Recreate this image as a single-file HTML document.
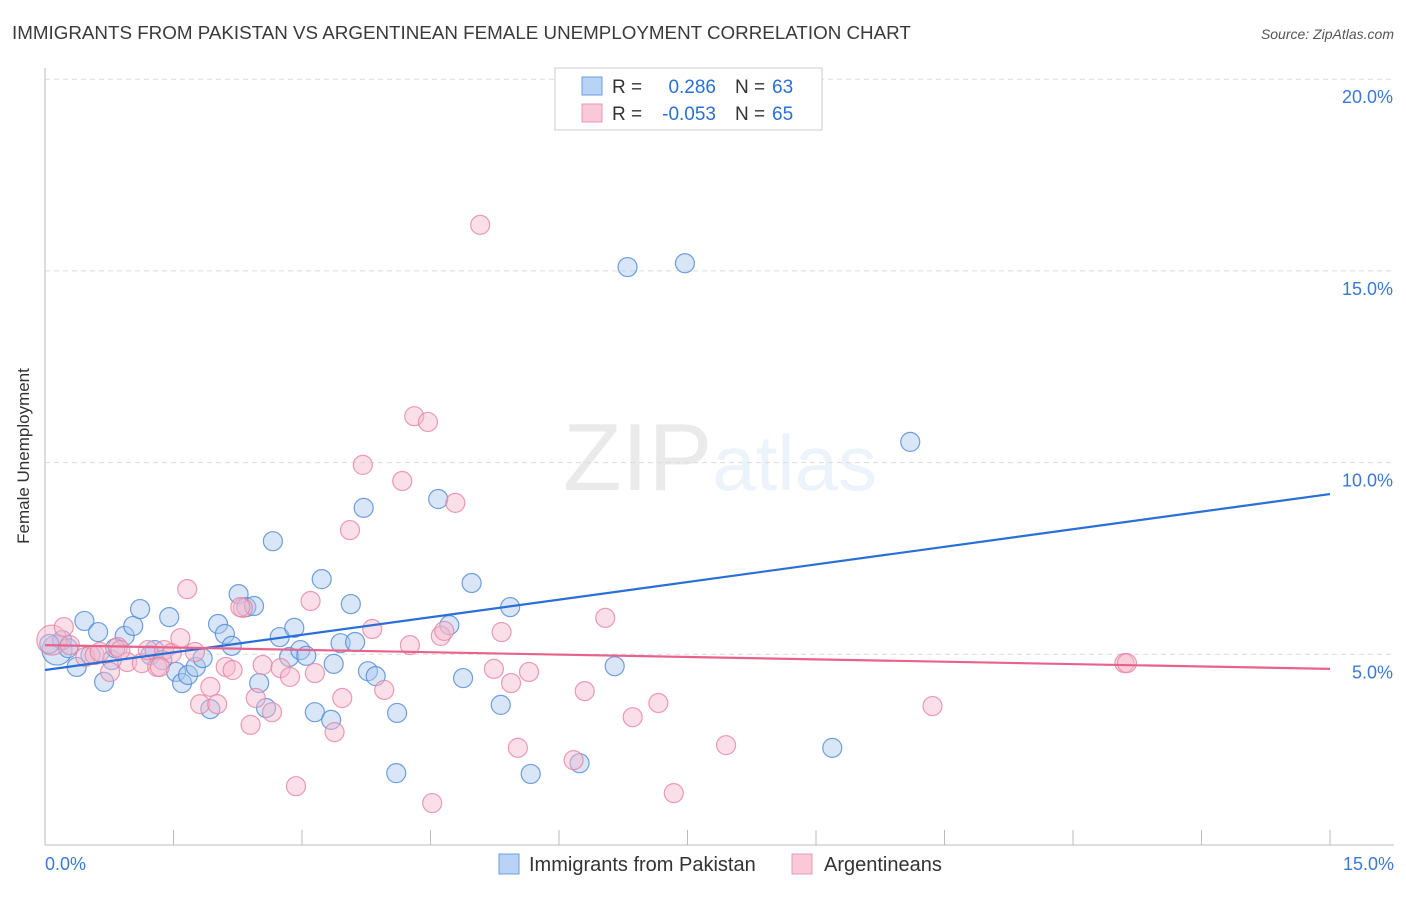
<!DOCTYPE html>
<html><head><meta charset="utf-8"><style>
body{margin:0;background:#fff;font-family:"Liberation Sans",sans-serif;}
svg text{font-family:"Liberation Sans",sans-serif;}
</style></head><body>
<svg id="chart" width="1406" height="892" xmlns="http://www.w3.org/2000/svg">
<text x="12" y="39" font-size="18.8" fill="#3a3a3a">IMMIGRANTS FROM PAKISTAN VS ARGENTINEAN FEMALE UNEMPLOYMENT CORRELATION CHART</text>
<text x="1394" y="39" font-size="14" fill="#555" text-anchor="end" font-style="italic">Source: ZipAtlas.com</text>
<text x="720" y="490" font-size="96" text-anchor="middle" fill="#000" opacity="0.08" font-family="Liberation Serif"><tspan>ZIP</tspan><tspan fill="#2a6fd6" opacity="1" font-family="Liberation Sans" font-size="78">atlas</tspan></text>
<text transform="translate(29,456) rotate(-90)" font-size="17" fill="#333" text-anchor="middle">Female Unemployment</text>
<g id="grid"></g><g id="axes"></g><g id="pts"></g><g id="trend"></g>
<g>
<rect x="555" y="68" width="267" height="62" fill="#fff" stroke="#ccc"/>
<rect x="582" y="77" width="20" height="18" fill="#b9d3f5" stroke="#6a9be0"/>
<rect x="582" y="104" width="20" height="18" fill="#f9c9d7" stroke="#e79ab2"/>
<text x="612" y="93" font-size="19" fill="#333">R = </text><text x="716" y="93" font-size="19" fill="#2a6fd6" text-anchor="end">0.286</text>
<text x="735" y="93" font-size="19" fill="#333">N = </text><text x="772" y="93" font-size="19" fill="#2a6fd6">63</text>
<text x="612" y="120" font-size="19" fill="#333">R = </text><text x="716" y="120" font-size="19" fill="#2a6fd6" text-anchor="end">-0.053</text>
<text x="735" y="120" font-size="19" fill="#333">N = </text><text x="772" y="120" font-size="19" fill="#2a6fd6">65</text>
</g>
<g>
<rect x="499" y="854" width="20" height="20" fill="#b9d3f5" stroke="#6a9be0"/>
<text x="529" y="871" font-size="20" fill="#333">Immigrants from Pakistan</text>
<rect x="792" y="854" width="20" height="20" fill="#f9c9d7" stroke="#e79ab2"/>
<text x="824" y="871" font-size="20" fill="#333">Argentineans</text>
</g>
</svg>
<script>
const blueX=[0.14,0.20,0.37,0.46,0.62,0.69,0.78,0.93,1.03,1.11,1.23,1.28,1.37,1.45,1.53,1.60,1.67,1.76,1.84,1.93,2.02,2.10,2.18,2.26,2.35,2.44,2.50,2.58,2.66,2.74,2.85,2.91,2.98,3.05,3.15,3.23,3.34,3.37,3.45,3.57,3.62,3.72,3.77,3.86,4.10,4.11,4.59,4.72,4.88,4.98,5.32,5.43,5.67,6.24,6.65,6.80,7.47,9.19,10.10,0.05,0.27,0.53,0.82];
const blueY=[5.11,5.37,4.67,5.87,5.58,4.28,4.85,5.48,5.74,6.18,4.98,5.11,4.85,5.97,4.54,4.25,4.46,4.67,4.90,3.57,5.79,5.53,5.22,6.57,6.23,6.26,4.25,3.60,7.95,5.45,4.93,5.69,5.11,4.96,3.49,6.96,3.29,4.75,5.29,6.31,5.32,8.82,4.56,4.43,1.90,3.47,9.05,5.76,4.38,6.86,3.68,6.23,1.88,2.16,4.69,15.10,15.20,2.56,10.54,5.27,5.16,4.98,5.16];
const pinkX=[0.08,0.22,0.29,0.47,0.58,0.76,0.85,0.96,1.13,1.20,1.31,1.39,1.48,1.58,1.66,1.75,1.81,1.93,2.01,2.11,2.19,2.31,2.40,2.46,2.54,2.65,2.75,2.86,2.93,3.10,3.15,3.38,3.47,3.56,3.71,3.82,3.96,4.17,4.26,4.31,4.47,4.52,4.62,4.66,4.79,5.08,5.24,5.33,5.44,5.52,5.65,6.17,6.30,6.54,6.86,7.16,7.34,7.95,10.36,12.60,12.63,1.34,0.88,0.64,2.28];
const pinkY=[5.37,5.71,5.24,4.93,4.98,4.54,5.19,4.80,4.77,5.11,4.67,5.11,5.03,5.42,6.70,5.06,3.70,4.15,3.70,4.67,4.59,6.21,3.16,3.86,4.72,3.49,4.64,4.41,1.56,6.39,4.51,2.97,3.86,8.24,9.94,5.66,4.07,9.52,5.24,11.21,11.06,1.12,5.48,5.61,8.95,16.20,4.62,5.58,4.25,2.56,4.54,2.24,4.04,5.95,3.36,3.73,1.38,2.63,3.65,4.77,4.77,4.67,5.11,5.06,6.23];
const blueTrend=[4.59,9.18];
const pinkTrend=[5.24,4.62];
const yTicks=[5,10,15,20];
const yTickLabels=["5.0%","10.0%","15.0%","20.0%"];
const xLabels=["0.0%","15.0%"];
const NS="http://www.w3.org/2000/svg";
const sx=v=>45+v/15*1285, sy=v=>846-v/5*191.7;
function mk(tag,attrs,parent){const e=document.createElementNS(NS,tag);for(const k in attrs)e.setAttribute(k,attrs[k]);document.getElementById(parent).appendChild(e);return e;}
yTicks.forEach((t,i)=>{
 const g=mk('line',{x1:45,x2:1394,y1:sy(t),y2:sy(t),stroke:'#dcdcdc','stroke-dasharray':'5,4'},'grid');
 
 
 const tx=mk('text',{x:1393,y:sy(t)+24,'font-size':18,fill:'#3b78d8','text-anchor':'end'},'grid');
 tx.textContent=yTickLabels[i];
 
 
});
const ax=mk('line',{x1:45,x2:45,y1:68,y2:845,stroke:'#bbb'},'axes');


const bx=mk('line',{x1:45,x2:1394,y1:845,y2:845,stroke:'#bbb'},'axes');


for(let i=0;i<=10;i++){const t=mk('line',{x1:sx(i*1.5),x2:sx(i*1.5),y1:830,y2:845,stroke:'#bbb'},'axes');
 
 }
[[0,45,'start'],[15,1394,'end']].forEach((d,i)=>{const t=mk('text',{x:d[1],y:870,'font-size':18,fill:'#3b78d8','text-anchor':d[2]},'axes');t.textContent=xLabels[i];
 
 });
function pts(X,Y,fill,stroke,name){X.forEach((x,i)=>{const c=mk('circle',{cx:sx(x),cy:sy(Y[i]),r:i===0?15:9.5,fill:fill,'fill-opacity':0.45,stroke:stroke,'stroke-width':1.2,'stroke-opacity':0.8},'pts');
 
 });}
pts(blueX,blueY,'#a9c8f0','#4f88d6','point-pakistan');
pts(pinkX,pinkY,'#f6b9cb','#e585a3','point-argentinean');
const l1=mk('line',{x1:sx(0),y1:sy(blueTrend[0]),x2:sx(15),y2:sy(blueTrend[1]),stroke:'#2a6fd6','stroke-width':2.2},'trend');


const l2=mk('line',{x1:sx(0),y1:sy(pinkTrend[0]),x2:sx(15),y2:sy(pinkTrend[1]),stroke:'#e8638c','stroke-width':2.2},'trend');


</script>
</body></html>
